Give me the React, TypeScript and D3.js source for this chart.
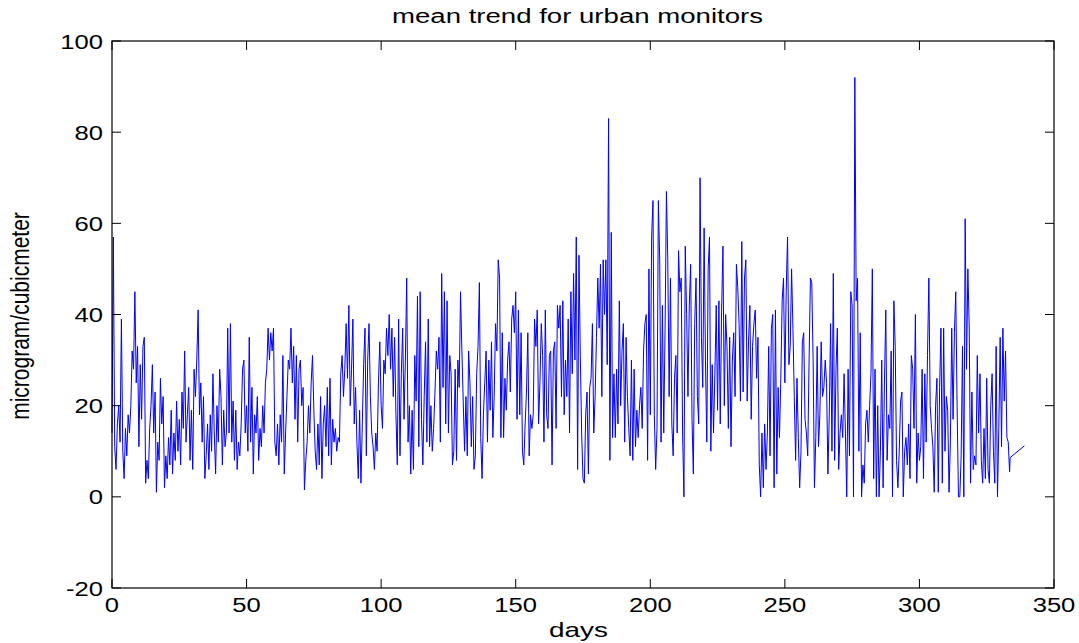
import React from "react";
import * as d3 from "d3";

const seg1 = [14, 57, 11, 6, 16, 20, 12, 39, 10, 4,
  15, 9, 18, 14, 20, 32, 28, 45, 25, 33,
  11, 29, 17, 33, 35, 3, 8, 4, 15, 20,
  29, 14, 23, 1, 12, 8, 26, 16, 22, 2,
  9, 4, 13, 7, 19, 5, 14, 8, 21, 10,
  17, 7, 23, 15, 32, 12, 18, 24, 8, 19,
  6, 28, 22, 30, 41, 18, 25, 12, 22, 4,
  9, 16, 6, 18, 10, 27, 14, 5, 20, 12,
  28, 22, 7, 19, 11, 14, 37, 14];
const seg2 = [38, 12, 21, 8, 19, 6, 12, 9, 16, 28,
  30, 14, 20, 10, 35, 12, 24, 5, 18, 14,
  22, 8, 15, 11, 20, 14, 25, 28, 37, 30,
  36, 32, 37, 12, 9, 16, 7, 18, 12, 31,
  5, 14, 22, 30, 28, 37, 25, 33, 17, 31,
  12, 28, 30, 20, 24, 1.5, 8, 12, 20, 14,
  25, 31, 19, 10, 6, 16, 7, 22, 4, 16,
  20, 11, 24, 9, 26, 7, 17, 12, 15, 10,
  13, 12, 27, 31, 22, 28, 38, 26, 42];
const seg3 = [20, 28, 39, 16, 24, 12, 4, 19, 3, 16,
  29, 37, 9, 30, 38, 22, 14, 11, 6, 14,
  10, 25, 34, 20, 15, 30, 27, 37, 31, 40,
  28, 37, 22, 35, 18, 7, 39, 9, 27, 37,
  17, 30, 48, 12, 20, 5, 19, 6, 31, 21,
  44, 11, 45, 17, 7, 22, 34, 12, 39, 11,
  20, 10, 15, 23, 32, 28, 35, 12, 49, 24,
  45, 16, 43, 14, 31, 27, 7, 10, 28, 8,
  30, 24, 45, 32, 21, 10, 22, 9, 32, 25];
const seg4 = [11, 22, 6, 9, 27, 33, 47, 13, 4, 18,
  25, 32, 12, 30, 19, 34, 13, 22, 38, 32,
  52, 48, 13, 36, 13, 26, 19, 30, 34, 23,
  39, 42, 36, 45, 17, 41, 18, 36, 10, 7,
  16, 23, 36, 9, 18, 15, 18, 39, 33, 41,
  16, 25, 38, 31, 12, 41, 18, 15, 31, 32,
  7, 32, 34, 15, 42, 37, 42, 22, 43, 18,
  30, 22, 39, 14, 45, 27, 49, 30, 57, 6,
  53, 31, 14, 4, 3, 18, 23, 5, 24];
const seg5 = [26, 38, 14, 22, 35, 48, 37, 51, 22, 52,
  40, 52, 29, 83, 8, 58, 13, 27, 13, 28,
  16, 43, 20, 32, 38, 12, 35, 22, 15, 9,
  30, 8, 28, 11, 19, 13, 20, 24, 15, 32,
  38, 40, 8, 50, 18, 57, 65, 18, 6, 15,
  65, 52, 12, 42, 14, 37, 67, 52, 22, 48,
  16, 9, 26, 31, 14, 54, 45, 48, 14, 0,
  55, 40, 22, 42, 51, 17, 5, 38, 48, 22,
  16, 70, 35, 24, 59, 30, 12, 50, 57];
const seg6 = [10, 29, 14, 27, 42, 19, 43, 16, 41, 55,
  20, 40, 33, 15, 35, 11, 30, 36, 22, 51,
  46, 38, 21, 56, 23, 48, 52, 21, 34, 42,
  17, 33, 38, 41, 26, 35, 7, 0, 14, 2,
  16, 6, 14, 33, 9, 37, 40, 2, 41, 5,
  24, 13, 26, 43, 48, 25, 45, 57, 29, 33,
  50, 37, 22, 8, 26, 13, 2, 10, 34, 36,
  17, 14, 9, 30, 48, 47, 30, 2, 13, 33,
  11, 18, 34, 22, 24, 30, 25, 5, 18];
const seg7 = [38, 10, 49, 8, 28, 37, 6, 14, 18, 13,
  27, 14, 0, 28, 9, 45, 42, 0, 92, 43,
  48, 10, 36, 0, 7, 3, 16, 19, 12, 20,
  27, 50, 4, 28, 0, 20, 0, 10, 30, 2,
  25, 41, 8, 18, 15, 32, 0, 43, 33, 8,
  2, 10, 21, 23, 0, 10, 13, 7, 16, 4,
  31, 28, 15, 40, 3, 14, 8, 11, 28, 4,
  27, 12, 31, 48, 20, 15, 11, 1, 20, 26,
  1, 24, 37, 3, 37, 10, 22, 19, 1];
const seg8 = [12, 37, 17, 36, 45, 20, 0, 0, 9, 33,
  0, 61, 28, 50, 37, 3, 23, 6, 9, 7,
  31, 14, 27, 8, 3, 15, 4, 26, 6, 3,
  20, 27, 10, 3, 33, 0, 15, 35, 11, 37,
  21, 32, 13, 12, 5.5];
const segmentStarts = [0, 44, 88.5, 133.5, 178, 222.5, 267, 311.5];
const segmentStep = 0.5;
const tailDays = [333.7, 339];
const tailValues = [8.6, 11.2];

const xTicks = [0, 50, 100, 150, 200, 250, 300, 350];
const yTicks = [-20, 0, 20, 40, 60, 80, 100];
const titleText = "mean trend for urban monitors";
const xLabelText = "days";
const yLabelText = "microgram/cubicmeter";

export default function App() {
  const W = 1079;
  const H = 643;
  const L = 112, R = 1054, T = 41, B = 588;
  const x = d3.scaleLinear().domain([0, 350]).range([L, R]);
  const y = d3.scaleLinear().domain([-20, 100]).range([B, T]);
  const segments = [seg1, seg2, seg3, seg4, seg5, seg6, seg7, seg8];
  const pts: [number, number][] = [];
  segments.forEach((s, k) => s.forEach((v, i) => pts.push([segmentStarts[k] + i * segmentStep, v])));
  tailDays.forEach((d, i) => pts.push([d, tailValues[i]]));
  const line = d3.line<[number, number]>().x((d) => x(d[0])).y((d) => y(d[1]));
  const font = "'Liberation Sans', Arial, Helvetica, sans-serif";
  const tickLen = 9;
  const sx = 1.22;

  return (
    <svg width={W} height={H} style={{ position: "absolute", left: 0, top: 0, background: "#fff" }}
      fontFamily={font}>
      <rect x={0} y={0} width={W} height={H} fill="#fff" />
      <path d={line(pts) || ""} fill="none" stroke="#0000ff" strokeWidth={1} strokeLinejoin="miter" />
      {/* box */}
      <rect x={L} y={T} width={R - L} height={B - T} fill="none" stroke="#000" strokeWidth={1.2} />
      {xTicks.map((t) => (
        <g key={"x" + t}>
          <line x1={x(t)} x2={x(t)} y1={B} y2={B - tickLen} stroke="#000" strokeWidth={1} />
          <line x1={x(t)} x2={x(t)} y1={T} y2={T + tickLen} stroke="#000" strokeWidth={1} />
          <g transform={`translate(${x(t)},612) scale(${sx},1)`}>
            <text textAnchor="middle" fontSize={21} fill="#000">{t}</text>
          </g>
        </g>
      ))}
      {yTicks.map((t) => (
        <g key={"y" + t}>
          <line x1={L} x2={L + tickLen} y1={y(t)} y2={y(t)} stroke="#000" strokeWidth={1} />
          <line x1={R} x2={R - tickLen} y1={y(t)} y2={y(t)} stroke="#000" strokeWidth={1} />
          <g transform={`translate(103,${y(t) + 7.5}) scale(${sx},1)`}>
            <text textAnchor="end" fontSize={21} fill="#000">{t}</text>
          </g>
        </g>
      ))}
      <text x={577.5} y={23} textAnchor="middle" fontSize={20} textLength={371}
        lengthAdjust="spacingAndGlyphs" fill="#000">{titleText}</text>
      <text x={578.5} y={637} textAnchor="middle" fontSize={21} textLength={59}
        lengthAdjust="spacingAndGlyphs" fill="#000">{xLabelText}</text>
      <g transform={`translate(29,316) scale(1.25,1) rotate(-90)`}>
        <text textAnchor="middle" fontSize={21} fill="#000">{yLabelText}</text>
      </g>
    </svg>
  );
}
